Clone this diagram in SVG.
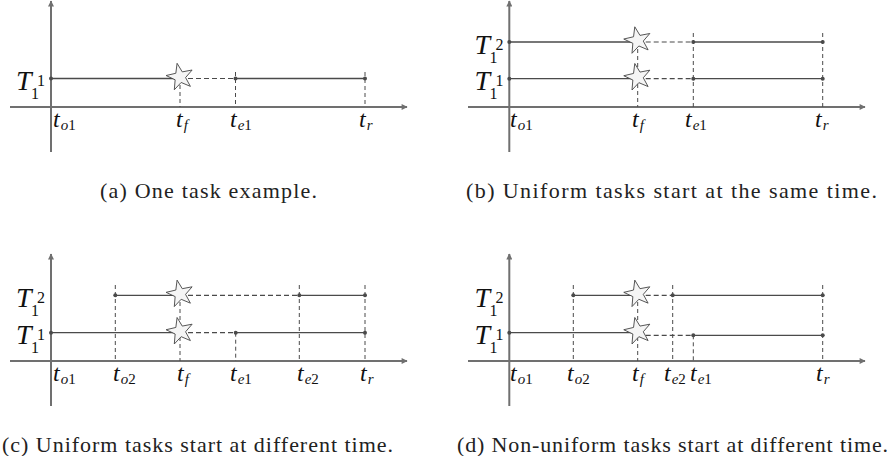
<svg xmlns="http://www.w3.org/2000/svg" xmlns:xlink="http://www.w3.org/1999/xlink" width="891" height="456" viewBox="0 0 891 456">
<style>
.ax{stroke:#707070;stroke-width:2;fill:none}
.ln{stroke:#4a4a4a;stroke-width:1.3;fill:none}
.dv{stroke:#4a4a4a;stroke-width:1;stroke-dasharray:4 3;fill:none}
.dh{stroke:#4a4a4a;stroke-width:1.2;stroke-dasharray:5 3;fill:none}
.dot{fill:#4a4a4a}
.star{fill:#f5f5f5;stroke:#444;stroke-width:0.9}
.T{font-family:'Liberation Serif','Times New Roman','DejaVu Serif',serif;font-style:italic;font-size:28px;fill:#111}
.n{font-family:'Liberation Serif','Times New Roman','DejaVu Serif',serif;font-size:16px;fill:#111}
.t{font-family:'Liberation Serif','Times New Roman','DejaVu Serif',serif;font-style:italic;font-size:24px;fill:#111}
.s{font-size:15px}
.u{font-style:normal}
.cap{font-family:'Liberation Serif','Times New Roman','DejaVu Serif',serif;font-size:22px;fill:#222}
</style>
<defs>
<marker id="ah" viewBox="0 0 10 10" refX="9" refY="5" markerWidth="7" markerHeight="6" markerUnits="userSpaceOnUse" orient="auto"><path d="M0,0 L10,5 L0,10 z" fill="#707070"/></marker>
<path id="star" d="M-2.91,-13.69 L2.28,-5.12 L12.12,-7 L5.57,0.59 L10.4,9.37 L1.16,5.48 L-5.69,12.79 L-4.85,2.8 L-13.92,-1.46 L-4.16,-3.75 Z"/>
<circle id="d" r="2"/>
</defs>

<!-- Panel (a) -->
<g id="panel-a">
<g id="a-axes">
<line class="ax" x1="10" y1="107" x2="407" y2="107" marker-end="url(#ah)"/>
<line class="ax" x1="51" y1="152" x2="51" y2="1" marker-end="url(#ah)"/>
</g>
<g id="a-connectors">
<line class="dv" x1="180" y1="78" x2="180" y2="107"/>
<line class="dv" x1="235.5" y1="72" x2="235.5" y2="107"/>
<line class="dv" x1="365" y1="72" x2="365" y2="107"/>
<line class="ln" x1="51" y1="78.5" x2="180" y2="78.5"/>
<line class="dh" x1="180" y1="78.5" x2="235.5" y2="78.5"/>
<line class="ln" x1="235.5" y1="78.5" x2="365" y2="78.5"/>
</g>
<g id="a-task1">
<use xlink:href="#d" class="dot" x="51" y="78.5"/>
<use xlink:href="#star" class="star" x="180" y="77"/>
<use xlink:href="#d" class="dot" x="235.5" y="78.5"/>
<use xlink:href="#d" class="dot" x="365" y="78.5"/>
<text class="T" x="16" y="90">T</text><text class="n" x="31" y="99">1</text><text class="n" x="37" y="86">1</text>
</g>
<g id="a-time-labels">
<text class="t" x="53" y="127">t<tspan class="s" dy="3" dx="1">o</tspan><tspan class="s u">1</tspan></text>
<text class="t" x="176" y="127">t<tspan class="s" dy="3" dx="1">f</tspan></text>
<text class="t" x="230" y="127">t<tspan class="s" dy="3" dx="1">e</tspan><tspan class="s u">1</tspan></text>
<text class="t" x="359" y="127">t<tspan class="s" dy="3" dx="1">r</tspan></text>
</g>
<text class="cap" x="100" y="197.5" textLength="217" lengthAdjust="spacing">(a) One task example.</text>
</g>

<!-- Panel (b) -->
<g id="panel-b">
<g id="b-axes">
<line class="ax" x1="468" y1="107" x2="865" y2="107" marker-end="url(#ah)"/>
<line class="ax" x1="509.3" y1="152" x2="509.3" y2="1" marker-end="url(#ah)"/>
</g>
<g id="b-connectors">
<line class="dv" x1="637.7" y1="42" x2="637.7" y2="107"/>
<line class="dv" x1="693.3" y1="33" x2="693.3" y2="107"/>
<line class="dv" x1="822.7" y1="33" x2="822.7" y2="107"/>
<line class="ln" x1="509.3" y1="42" x2="637.7" y2="42"/>
<line class="dh" x1="637.7" y1="42" x2="693.3" y2="42"/>
<line class="ln" x1="693.3" y1="42" x2="822.7" y2="42"/>
<line class="ln" x1="509.3" y1="78.7" x2="637.7" y2="78.7"/>
<line class="dh" x1="637.7" y1="78.7" x2="693.3" y2="78.7"/>
<line class="ln" x1="693.3" y1="78.7" x2="822.7" y2="78.7"/>
</g>
<g id="b-task2">
<use xlink:href="#d" class="dot" x="509.3" y="42"/>
<use xlink:href="#star" class="star" x="637.7" y="40.5"/>
<use xlink:href="#d" class="dot" x="693.3" y="42"/>
<use xlink:href="#d" class="dot" x="822.7" y="42"/>
<text class="T" x="474.5" y="53.5">T</text><text class="n" x="489.5" y="62.5">1</text><text class="n" x="495.5" y="49.5">2</text>
</g>
<g id="b-task1">
<use xlink:href="#d" class="dot" x="509.3" y="78.7"/>
<use xlink:href="#star" class="star" x="637.7" y="77.2"/>
<use xlink:href="#d" class="dot" x="693.3" y="78.7"/>
<use xlink:href="#d" class="dot" x="822.7" y="78.7"/>
<text class="T" x="474.5" y="90.2">T</text><text class="n" x="489.5" y="99.2">1</text><text class="n" x="495.5" y="86.2">1</text>
</g>
<g id="b-time-labels">
<text class="t" x="510" y="127">t<tspan class="s" dy="3" dx="1">o</tspan><tspan class="s u">1</tspan></text>
<text class="t" x="632" y="127">t<tspan class="s" dy="3" dx="1">f</tspan></text>
<text class="t" x="685" y="127">t<tspan class="s" dy="3" dx="1">e</tspan><tspan class="s u">1</tspan></text>
<text class="t" x="815" y="127">t<tspan class="s" dy="3" dx="1">r</tspan></text>
</g>
<text class="cap" x="466" y="197.5" textLength="411" lengthAdjust="spacing">(b) Uniform tasks start at the same time.</text>
</g>

<!-- Panel (c) -->
<g id="panel-c">
<g id="c-axes">
<line class="ax" x1="10" y1="361" x2="407" y2="361" marker-end="url(#ah)"/>
<line class="ax" x1="51" y1="406" x2="51" y2="254" marker-end="url(#ah)"/>
</g>
<g id="c-connectors">
<line class="dv" x1="115.3" y1="285" x2="115.3" y2="361"/>
<line class="dv" x1="180" y1="295" x2="180" y2="361"/>
<line class="dv" x1="235.7" y1="332.7" x2="235.7" y2="361"/>
<line class="dv" x1="299.3" y1="285" x2="299.3" y2="361"/>
<line class="dv" x1="365" y1="285" x2="365" y2="361"/>
<line class="ln" x1="115.3" y1="295.3" x2="180" y2="295.3"/>
<line class="dh" x1="180" y1="295.3" x2="299.3" y2="295.3"/>
<line class="ln" x1="299.3" y1="295.3" x2="365" y2="295.3"/>
<line class="ln" x1="51" y1="332.7" x2="180" y2="332.7"/>
<line class="dh" x1="180" y1="332.7" x2="235.7" y2="332.7"/>
<line class="ln" x1="235.7" y1="332.7" x2="365" y2="332.7"/>
</g>
<g id="c-task2">
<use xlink:href="#d" class="dot" x="115.3" y="295.3"/>
<use xlink:href="#star" class="star" x="180" y="293.8"/>
<use xlink:href="#d" class="dot" x="299.3" y="295.3"/>
<use xlink:href="#d" class="dot" x="365" y="295.3"/>
<text class="T" x="16" y="306.8">T</text><text class="n" x="31" y="315.8">1</text><text class="n" x="37" y="302.8">2</text>
</g>
<g id="c-task1">
<use xlink:href="#d" class="dot" x="51" y="332.7"/>
<use xlink:href="#star" class="star" x="180" y="331.2"/>
<use xlink:href="#d" class="dot" x="235.7" y="332.7"/>
<use xlink:href="#d" class="dot" x="365" y="332.7"/>
<text class="T" x="16" y="344.2">T</text><text class="n" x="31" y="353.2">1</text><text class="n" x="37" y="340.2">1</text>
</g>
<g id="c-time-labels">
<text class="t" x="53" y="381">t<tspan class="s" dy="3" dx="1">o</tspan><tspan class="s u">1</tspan></text>
<text class="t" x="113" y="381">t<tspan class="s" dy="3" dx="1">o</tspan><tspan class="s u">2</tspan></text>
<text class="t" x="177" y="381">t<tspan class="s" dy="3" dx="1">f</tspan></text>
<text class="t" x="230" y="381">t<tspan class="s" dy="3" dx="1">e</tspan><tspan class="s u">1</tspan></text>
<text class="t" x="297" y="381">t<tspan class="s" dy="3" dx="1">e</tspan><tspan class="s u">2</tspan></text>
<text class="t" x="360" y="381">t<tspan class="s" dy="3" dx="1">r</tspan></text>
</g>
<text class="cap" x="2" y="452" textLength="391" lengthAdjust="spacing">(c) Uniform tasks start at different time.</text>
</g>

<!-- Panel (d) -->
<g id="panel-d">
<g id="d-axes">
<line class="ax" x1="468" y1="361" x2="865" y2="361" marker-end="url(#ah)"/>
<line class="ax" x1="509.3" y1="406" x2="509.3" y2="254" marker-end="url(#ah)"/>
</g>
<g id="d-connectors">
<line class="dv" x1="573.3" y1="285" x2="573.3" y2="361"/>
<line class="dv" x1="637.7" y1="295" x2="637.7" y2="361"/>
<line class="dv" x1="672.7" y1="285" x2="672.7" y2="361"/>
<line class="dv" x1="693.3" y1="335.3" x2="693.3" y2="361"/>
<line class="dv" x1="822.7" y1="285" x2="822.7" y2="361"/>
<line class="ln" x1="573.3" y1="295.3" x2="637.7" y2="295.3"/>
<line class="dh" x1="637.7" y1="295.3" x2="672.7" y2="295.3"/>
<line class="ln" x1="672.7" y1="295.3" x2="822.7" y2="295.3"/>
<line class="ln" x1="509.3" y1="332.7" x2="637.7" y2="332.7"/>
<line class="dh" x1="637.7" y1="335.3" x2="693.3" y2="335.3"/>
<line class="ln" x1="693.3" y1="335.3" x2="822.7" y2="335.3"/>
</g>
<g id="d-task2">
<use xlink:href="#d" class="dot" x="573.3" y="295.3"/>
<use xlink:href="#star" class="star" x="637.7" y="293.8"/>
<use xlink:href="#d" class="dot" x="672.7" y="295.3"/>
<use xlink:href="#d" class="dot" x="822.7" y="295.3"/>
<text class="T" x="474.5" y="306.8">T</text><text class="n" x="489.5" y="315.8">1</text><text class="n" x="495.5" y="302.8">2</text>
</g>
<g id="d-task1">
<use xlink:href="#d" class="dot" x="509.3" y="332.7"/>
<use xlink:href="#star" class="star" x="637.7" y="331.2"/>
<use xlink:href="#d" class="dot" x="693.3" y="335.3"/>
<use xlink:href="#d" class="dot" x="822.7" y="335.3"/>
<text class="T" x="474.5" y="344.2">T</text><text class="n" x="489.5" y="353.2">1</text><text class="n" x="495.5" y="340.2">1</text>
</g>
<g id="d-time-labels">
<text class="t" x="510" y="381">t<tspan class="s" dy="3" dx="1">o</tspan><tspan class="s u">1</tspan></text>
<text class="t" x="567" y="381">t<tspan class="s" dy="3" dx="1">o</tspan><tspan class="s u">2</tspan></text>
<text class="t" x="632" y="381">t<tspan class="s" dy="3" dx="1">f</tspan></text>
<text class="t" x="664" y="381">t<tspan class="s" dy="3" dx="1">e</tspan><tspan class="s u">2</tspan></text>
<text class="t" x="690" y="381">t<tspan class="s" dy="3" dx="1">e</tspan><tspan class="s u">1</tspan></text>
<text class="t" x="816" y="381">t<tspan class="s" dy="3" dx="1">r</tspan></text>
</g>
<text class="cap" x="457" y="452" textLength="431" lengthAdjust="spacing">(d) Non-uniform tasks start at different time.</text>
</g>
</svg>
